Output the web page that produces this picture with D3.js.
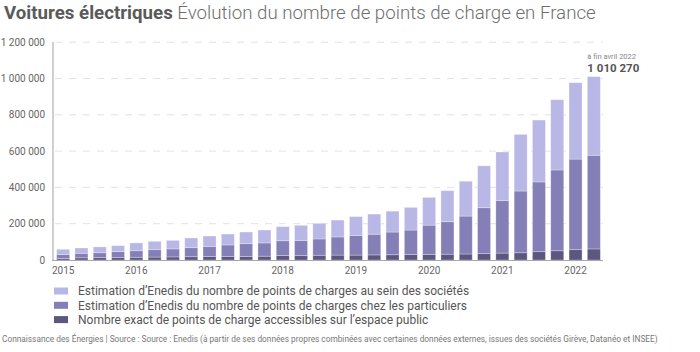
<!DOCTYPE html>
<html>
<head>
<meta charset="utf-8">
<script src="https://cdn.jsdelivr.net/npm/d3@7"></script>
<style>
body { margin: 0; background: #fff; font-family: Roboto, sans-serif; }
</style>
</head>
<body>
<svg id="chart" width="700" height="352"></svg>
<script>
// quarters 2015 T1 -> 2022 T2 (à fin avril 2022)
var quarters = [];
for (var y = 2015; y <= 2022; y++) {
    for (var q = 1; q <= 4; q++) {
        if (y == 2022 && q > 2) break;
        quarters.push(y + '-T' + q);
    }
}
var yearTicks = ['2015', '2016', '2017', '2018', '2019', '2020', '2021', '2022'];

// public points (exact)
var publicPts = [9000, 12000, 13000, 14000, 15000, 16000, 17000, 18000, 19000, 20000,
    20000, 21000, 25000, 24000, 26000, 27000, 27000, 28000, 29000, 30000,
    31000, 32000, 33000, 35000, 38000, 40000, 46000, 51000, 57000, 61000];
// estimation chez les particuliers
var particuliers = [22000, 25000, 27000, 32000, 36000, 41000, 44000, 50000, 56000, 63000,
    70000, 73000, 81000, 84000, 90000, 100000, 108000, 114000, 125000, 135000,
    161000, 179000, 209000, 253000, 289000, 340000, 384000, 445000, 499000, 516000];
// estimation au sein des sociétés
var societes = [28000, 29000, 32000, 33000, 43000, 46000, 47000, 53000, 57000, 60000,
    64000, 71000, 78000, 83000, 86000, 93000, 104000, 111000, 115000, 125000,
    153000, 171000, 192000, 231000, 268000, 312000, 341000, 387000, 421000, 433270];

var yTicks = [0, 200000, 400000, 600000, 800000, 1000000, 1200000];

var seriesNames = [
    'Estimation d\u2019Enedis du nombre de points de charges au sein des sociétés',
    'Estimation d\u2019Enedis du nombre de points de charges chez les particuliers',
    'Nombre exact de points de charge accessibles sur l\u2019espace public'
];
var colors = {'public': '#5c577f', 'particuliers': '#847fb6', 'societes': '#b8b7e6'};

var table = quarters.map(function(q, i) {
    return {q: q, 'public': publicPts[i], particuliers: particuliers[i], societes: societes[i]};
});

var svg = d3.select('#chart');
var fmt = function(v) { return d3.format(',')(v).replace(/,/g, ' '); };

// title
var title = svg.append('text').attr('x', 4).attr('y', 19).style('font-size', '18.7px');
title.append('tspan').attr('font-weight', 700).attr('fill', '#5a5a5a').text('Voitures électriques');
title.append('tspan').attr('font-weight', 300).attr('fill', '#6e6e6e').text(' Évolution du nombre de points de charge en France');

var x = d3.scaleBand()
    .domain(quarters)
    .range([54, 603])
    .paddingInner(0.29)
    .paddingOuter(0.145);

var yScale = d3.scaleLinear()
    .domain([0, 1200000])
    .range([260, 42.2]);

// grid
svg.append('g').selectAll('line')
    .data(yTicks.filter(function(d) { return d > 0; }))
    .enter().append('line')
    .attr('x1', 55).attr('x2', 603)
    .attr('y1', function(d) { return yScale(d); })
    .attr('y2', function(d) { return yScale(d); })
    .attr('stroke', '#e2e2e2')
    .attr('stroke-dasharray', '7,7');

// y labels
svg.append('g').selectAll('text')
    .data(yTicks)
    .enter().append('text')
    .attr('x', 45)
    .attr('y', function(d) { return yScale(d) + 3.5; })
    .attr('text-anchor', 'end')
    .attr('fill', '#666')
    .style('font-size', '10px')
    .text(fmt);

// stacked bars
var stack = d3.stack().keys(['public', 'particuliers', 'societes']);
var layers = stack(table);

svg.append('g').selectAll('g')
    .data(layers)
    .enter().append('g')
    .attr('fill', function(d) { return colors[d.key]; })
    .selectAll('rect')
    .data(function(d) { return d; })
    .enter().append('rect')
    .attr('x', function(d) { return x(d.data.q); })
    .attr('width', x.bandwidth())
    .attr('y', function(d) { return yScale(d[1]); })
    .attr('height', function(d) { return yScale(d[0]) - yScale(d[1]); })
    .attr('stroke', '#ffffff')
    .attr('stroke-opacity', 0.35)
    .attr('stroke-width', 0.8);

// axes lines
svg.append('line')
    .attr('x1', 53).attr('x2', 53)
    .attr('y1', 42).attr('y2', 260)
    .attr('stroke', '#d0d0d0').attr('stroke-width', 2);
svg.append('line')
    .attr('x1', 52).attr('x2', 603)
    .attr('y1', 260.5).attr('y2', 260.5)
    .attr('stroke', '#a8a8a8').attr('stroke-width', 1);

// x labels
svg.append('g').selectAll('text')
    .data(yearTicks)
    .enter().append('text')
    .attr('x', function(d) { return x(d + '-T1') + x.bandwidth() / 2; })
    .attr('y', 274)
    .attr('text-anchor', 'middle')
    .attr('fill', '#666')
    .style('font-size', '10px')
    .text(function(d) { return d; });

// annotation on last bar
var last = table[table.length - 1];
var lastTotal = last['public'] + last.particuliers + last.societes;
svg.append('text')
    .attr('x', x(last.q))
    .attr('y', yScale(lastTotal) - 18)
    .attr('fill', '#888')
    .style('font-size', '7.5px')
    .text('à fin avril 2022');
svg.append('text')
    .attr('x', x(last.q))
    .attr('y', yScale(lastTotal) - 5)
    .attr('fill', '#555')
    .attr('font-weight', 700)
    .style('font-size', '11.5px')
    .text(fmt(lastTotal));

// legend
var legend = svg.append('g').selectAll('g')
    .data(seriesNames)
    .enter().append('g')
    .attr('transform', function(d, i) { return 'translate(54,' + (291 + i * 14.3) + ')'; });
legend.append('rect')
    .attr('x', 0).attr('y', -3.5)
    .attr('width', 14).attr('height', 7)
    .attr('fill', function(d, i) { return [colors.societes, colors.particuliers, colors['public']][i]; });
legend.append('text')
    .attr('x', 24).attr('y', 4.3)
    .attr('fill', '#555')
    .style('font-size', '12px')
    .text(function(d) { return d; });

// footer
svg.append('text')
    .attr('x', 2).attr('y', 342)
    .attr('fill', '#777')
    .style('font-size', '8.3px')
    .text('Connaissance des Énergies | Source : Source : Enedis (à partir de ses données propres combinées avec certaines données externes, issues des sociétés Girève, Datanéo et INSEE)');
</script>
</body>
</html>
